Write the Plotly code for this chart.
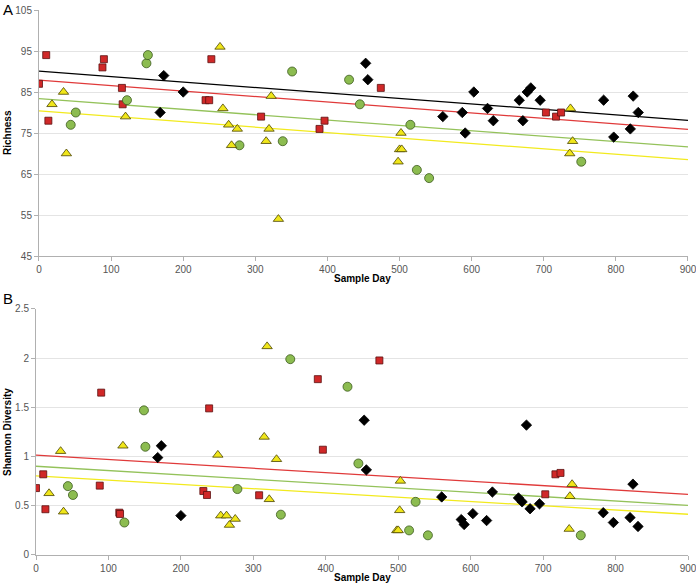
import plotly.graph_objects as go

# ---- data ----
black_day = [168, 173, 200, 453, 456, 560, 587, 591, 603, 622, 630, 666, 671, 677, 682, 695, 783, 797, 820, 824, 831]
black_rich = [80, 89, 85, 92, 88, 79, 80, 75, 85, 81, 78, 83, 78, 85, 86, 83, 83, 74, 76, 84, 80]
black_shan = [0.99, 1.11, 0.40, 1.37, 0.865, 0.59, 0.36, 0.31, 0.42, 0.35, 0.64, 0.58, 0.54, 1.32, 0.47, 0.52, 0.43, 0.33, 0.38, 0.72, 0.29]

red_day = [0, 10, 13, 88, 90, 115, 116, 231, 236, 239, 308, 389, 396, 474, 703, 717, 724]
red_rich = [87, 94, 78, 91, 93, 86, 82, 83, 83, 93, 79, 76, 78, 86, 80, 79, 80]
red_shan = [0.68, 0.82, 0.465, 0.705, 1.65, 0.43, 0.417, 0.65, 0.61, 1.49, 0.607, 1.787, 1.07, 1.977, 0.617, 0.82, 0.834]

green_day = [44, 51, 122, 149, 151, 278, 338, 351, 430, 445, 515, 524, 541, 752]
green_rich = [77, 80, 83, 92, 94, 72, 73, 90, 88, 82, 77, 66, 64, 68]
green_shan = [0.70, 0.61, 0.33, 1.47, 1.10, 0.67, 0.41, 1.99, 1.71, 0.93, 0.25, 0.54, 0.20, 0.20]

yellow_day = [18, 34, 38, 120, 251, 255, 263, 267, 275, 315, 319, 322, 332, 498, 500, 502, 503, 736, 737, 740]
yellow_rich = [82, 85, 70, 79, 96, 81, 77, 72, 76, 73, 76, 84, 54, 68, 71, 75, 71, 70, 81, 73]
yellow_shan = [0.627, 1.055, 0.44, 1.11, 1.017, 0.40, 0.40, 0.305, 0.366, 1.20, 2.12, 0.566, 0.973, 0.25, 0.25, 0.454, 0.753, 0.264, 0.597, 0.719]

# trend lines (common-slope fits, read at day 0 and day 900)
trend_day = [0, 900]
black_rich_trend = [90.1, 78.1]
red_rich_trend = [87.9, 75.9]
green_rich_trend = [83.4, 71.6]
yellow_rich_trend = [80.4, 68.5]
red_shan_trend = [1.014, 0.617]
green_shan_trend = [0.902, 0.505]
yellow_shan_trend = [0.804, 0.414]

x_ticks = [0, 100, 200, 300, 400, 500, 600, 700, 800, 900]
rich_ticks = [45, 55, 65, 75, 85, 95, 105]
shan_ticks = [0, 0.5, 1, 1.5, 2, 2.5]
shan_tick_labels = ["0", "0.5", "1", "1.5", "2", "2.5"]

# ---- styles ----
series = [
    dict(day=black_day, rich=black_rich, shan=black_shan, rt=black_rich_trend, st=None,
         symbol="diamond", size=8, fill="#000000", edge="#000000", line="#000000"),
    dict(day=red_day, rich=red_rich, shan=red_shan, rt=red_rich_trend, st=red_shan_trend,
         symbol="square", size=7, fill="#d02828", edge="#5a1010", line="#e03a3a"),
    dict(day=green_day, rich=green_rich, shan=green_shan, rt=green_rich_trend, st=green_shan_trend,
         symbol="circle", size=9, fill="#8cbc50", edge="#3c5a1e", line="#94c25a"),
    dict(day=yellow_day, rich=yellow_rich, shan=yellow_shan, rt=yellow_rich_trend, st=yellow_shan_trend,
         symbol="triangle-up", size=9, fill="#f0e61a", edge="#4a4400", line="#f2ea1e"),
]

fig = go.Figure()

for s in series:
    fig.add_trace(go.Scatter(x=trend_day, y=s["rt"], mode="lines",
                             line=dict(color=s["line"], width=1.3),
                             xaxis="x", yaxis="y", hoverinfo="skip"))
    if s["st"] is not None:
        fig.add_trace(go.Scatter(x=trend_day, y=s["st"], mode="lines",
                                 line=dict(color=s["line"], width=1.3),
                                 xaxis="x2", yaxis="y2", hoverinfo="skip"))

for s in series:
    mk = dict(symbol=s["symbol"], size=s["size"], color=s["fill"],
              line=dict(color=s["edge"], width=0.8))
    fig.add_trace(go.Scatter(x=s["day"], y=s["rich"], mode="markers", marker=mk,
                             xaxis="x", yaxis="y"))
    fig.add_trace(go.Scatter(x=s["day"], y=s["shan"], mode="markers", marker=mk,
                             xaxis="x2", yaxis="y2"))

tickfont = dict(family="Liberation Sans, Arial, sans-serif", size=10, color="#555555")
axis_common = dict(showline=True, linecolor="#b0b0b0", linewidth=1, ticks="outside",
                   ticklen=4, tickcolor="#b0b0b0", tickfont=tickfont, zeroline=False,
                   ticklabeloverflow="allow", automargin=False)

fig.update_layout(
    width=696, height=584,
    margin=dict(l=36, r=8, t=10, b=29),
    paper_bgcolor="white", plot_bgcolor="white",
    showlegend=False,
    xaxis=dict(domain=[0.0046, 1], range=[0, 900], tickvals=x_ticks, showgrid=False,
               anchor="y", **axis_common),
    yaxis=dict(domain=[0.5486, 1], range=[45, 105], tickvals=rich_ticks, showgrid=True,
               gridcolor="#e4e4e4", gridwidth=1, anchor="x", **axis_common),
    xaxis2=dict(domain=[0, 1], range=[0, 900], tickvals=x_ticks, showgrid=False,
                anchor="y2", **axis_common),
    yaxis2=dict(domain=[0, 0.4514], range=[0, 2.5], tickvals=shan_ticks,
                ticktext=shan_tick_labels, showgrid=True, gridcolor="#e4e4e4",
                gridwidth=1, anchor="x2", **axis_common),
)

title_font = dict(family="Liberation Sans, Arial, sans-serif", size=10, color="#000000")
label_font = dict(family="Liberation Sans, Arial, sans-serif", size=15, color="#000000")
fig.update_layout(annotations=[
    dict(text="<b>Sample Day</b>", xref="paper", yref="paper", x=0.5, y=(555 - 278) / 545,
         xanchor="center", yanchor="middle", showarrow=False, font=title_font),
    dict(text="<b>Sample Day</b>", xref="paper", yref="paper", x=0.5, y=(555 - 577) / 545,
         xanchor="center", yanchor="middle", showarrow=False, font=title_font),
    dict(text="<b>Richness</b>", xref="paper", yref="paper", x=(8 - 36) / 652, y=(555 - 133) / 545,
         xanchor="center", yanchor="middle", textangle=-90, showarrow=False, font=title_font),
    dict(text="<b>Shannon Diversity</b>", xref="paper", yref="paper", x=(8 - 36) / 652,
         y=(555 - 432) / 545, xanchor="center", yanchor="middle", textangle=-90,
         showarrow=False, font=title_font),
    dict(text="A", xref="paper", yref="paper", x=(1 - 36) / 652, y=(555 - 9) / 545,
         xanchor="left", yanchor="middle", showarrow=False, font=label_font),
    dict(text="B", xref="paper", yref="paper", x=(1 - 36) / 652, y=(555 - 298) / 545,
         xanchor="left", yanchor="middle", showarrow=False, font=label_font),
])

fig.write_html("out.html", config={"displayModeBar": False},
               post_script="document.body.style.margin='0px';document.body.style.overflow='hidden';")
